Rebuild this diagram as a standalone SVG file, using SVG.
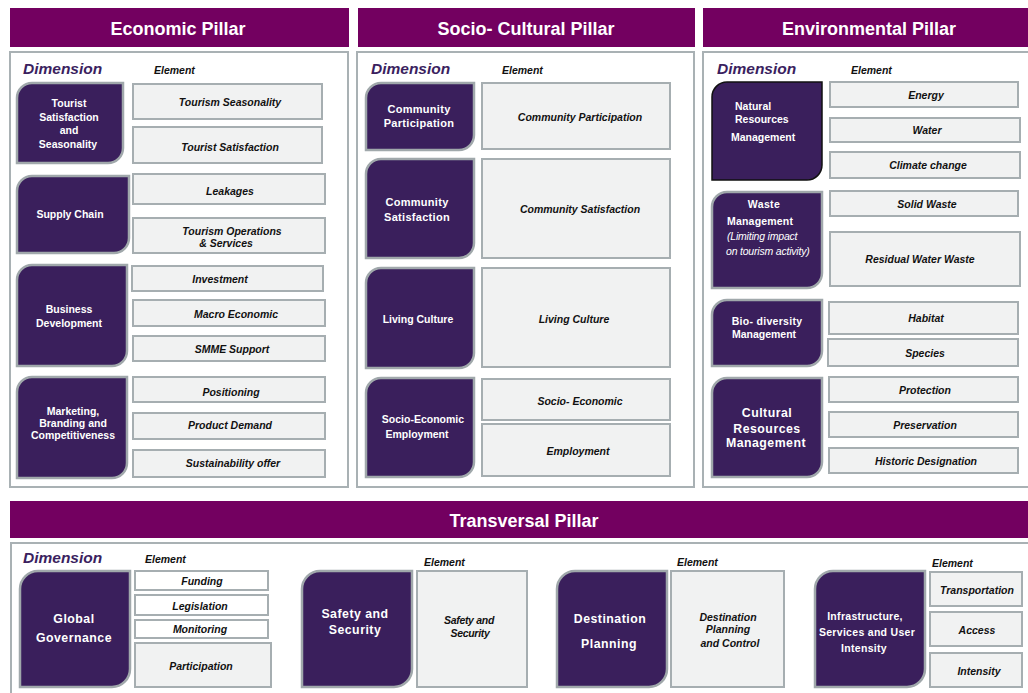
<svg xmlns="http://www.w3.org/2000/svg" width="1028" height="693" viewBox="0 0 1028 693">
<style>
.hdr{fill:#730060}
.hdrt{font-family:"Liberation Sans",Arial,sans-serif;font-weight:bold;font-size:18px;fill:#fff;text-anchor:middle}
.panel{fill:#fff;stroke:#a9b1b4;stroke-width:2}
.dim{fill:#3a1f5c;stroke:#a0a8ab;stroke-width:2.5}
.dimk{fill:#3a1f5c;stroke:#111;stroke-width:1.5}
.el{fill:#f1f2f2;stroke:#a6aeb1;stroke-width:2}
.elw{fill:#fff;stroke:#a6aeb1;stroke-width:2}
.dt{font-family:"Liberation Sans",Arial,sans-serif;font-weight:bold;font-size:10.5px;fill:#fff;text-anchor:middle}
.dtl{font-family:"Liberation Sans",Arial,sans-serif;font-weight:bold;font-size:12.3px;letter-spacing:0.5px;fill:#fff;text-anchor:middle}
.dti{font-family:"Liberation Sans",Arial,sans-serif;font-style:italic;font-size:10.5px;fill:#fff}
.et{font-family:"Liberation Sans",Arial,sans-serif;font-weight:bold;font-style:italic;font-size:10.5px;fill:#111;text-anchor:middle}
.dl{font-family:"Liberation Sans",Arial,sans-serif;font-weight:bold;font-style:italic;font-size:15.5px;fill:#3b1f5f}
.ell{font-family:"Liberation Sans",Arial,sans-serif;font-weight:bold;font-style:italic;font-size:10.5px;fill:#111}
</style>
<rect width="1028" height="693" fill="#fff"/>

<!-- Headers -->
<g id="header-economic"><rect class="hdr" x="10" y="8" width="339" height="39"/><text class="hdrt" x="178" y="35">Economic Pillar</text></g>
<g id="header-socio"><rect class="hdr" x="358" y="8" width="337" height="39"/><text class="hdrt" x="526" y="35">Socio- Cultural Pillar</text></g>
<g id="header-environmental"><rect class="hdr" x="703" y="8" width="325" height="39"/><text class="hdrt" x="869" y="35">Environmental Pillar</text></g>
<g id="header-transversal"><rect class="hdr" x="10" y="501" width="1018" height="37"/><text class="hdrt" x="524" y="527">Transversal Pillar</text></g>

<!-- Panels -->
<g id="panel-economic"><rect class="panel" x="10" y="52" width="338" height="435"/>
<text class="dl" x="23" y="74">Dimension</text><text class="ell" x="154" y="74">Element</text></g>
<g id="panel-socio"><rect class="panel" x="357" y="52" width="337" height="435"/>
<text class="dl" x="371" y="74">Dimension</text><text class="ell" x="502" y="74">Element</text></g>
<g id="panel-environmental"><rect class="panel" x="703" y="52" width="340" height="435"/>
<text class="dl" x="717" y="74">Dimension</text><text class="ell" x="851" y="74">Element</text></g>
<g id="panel-transversal"><rect class="panel" x="11" y="543" width="1030" height="200"/>
<text class="dl" x="23" y="563">Dimension</text><text class="ell" x="145" y="563">Element</text>
<text class="ell" x="424" y="566">Element</text><text class="ell" x="677" y="566">Element</text><text class="ell" x="932" y="567">Element</text></g>

<g id="connectors"/>

<!-- Economic dimensions -->
<g id="dim-tourist-satisfaction"><path class="dim" d="M17,98 A15,15 0 0 1 32,83 H123 V148 A15,15 0 0 1 108,163 H17 Z"/>
<text class="dt" x="69" y="107">Tourist</text><text class="dt" x="69" y="121">Satisfaction</text><text class="dt" x="69" y="134">and</text><text class="dt" x="68" y="148">Seasonality</text></g>
<g id="dim-supply-chain"><path class="dim" d="M17,191 A15,15 0 0 1 32,176 H129 V238 A15,15 0 0 1 114,253 H17 Z"/>
<text class="dt" x="70" y="218">Supply Chain</text></g>
<g id="dim-business-development"><path class="dim" d="M17,280 A15,15 0 0 1 32,265 H127 V351 A15,15 0 0 1 112,366 H17 Z"/>
<text class="dt" x="69" y="313">Business</text><text class="dt" x="69" y="327">Development</text></g>
<g id="dim-marketing"><path class="dim" d="M17,392 A15,15 0 0 1 32,377 H127 V463 A15,15 0 0 1 112,478 H17 Z"/>
<text class="dt" x="73" y="415">Marketing,</text><text class="dt" x="73" y="427">Branding and</text><text class="dt" x="73" y="439">Competitiveness</text></g>

<!-- Economic elements -->
<g id="el-tourism-seasonality"><rect class="el" x="133" y="84" width="189" height="35"/><text class="et" x="230" y="106">Tourism Seasonality</text></g>
<g id="el-tourist-satisfaction"><rect class="el" x="133" y="127" width="189" height="36"/><text class="et" x="230" y="151">Tourist Satisfaction</text></g>
<g id="el-leakages"><rect class="el" x="133" y="174" width="192" height="30"/><text class="et" x="230" y="195">Leakages</text></g>
<g id="el-tourism-operations"><rect class="el" x="133" y="218" width="192" height="35"/><text class="et" x="232" y="235">Tourism Operations</text><text class="et" x="226" y="247">&amp; Services</text></g>
<g id="el-investment"><rect class="el" x="132" y="266" width="191" height="25"/><text class="et" x="220" y="283">Investment</text></g>
<g id="el-macro-economic"><rect class="el" x="133" y="300" width="192" height="26"/><text class="et" x="236" y="318">Macro Economic</text></g>
<g id="el-smme-support"><rect class="el" x="133" y="336" width="192" height="25"/><text class="et" x="232" y="353">SMME Support</text></g>
<g id="el-positioning"><rect class="el" x="133" y="377" width="192" height="25"/><text class="et" x="231" y="396">Positioning</text></g>
<g id="el-product-demand"><rect class="el" x="133" y="413" width="192" height="26"/><text class="et" x="230" y="429">Product Demand</text></g>
<g id="el-sustainability-offer"><rect class="el" x="133" y="450" width="192" height="27"/><text class="et" x="233" y="467">Sustainability offer</text></g>

<!-- Socio dimensions -->
<g id="dim-community-participation"><path class="dim" d="M366,98 A15,15 0 0 1 381,83 H474 V135 A15,15 0 0 1 459,150 H366 Z"/>
<text class="dtl" x="419" y="113" style="font-size:11px;letter-spacing:0.3px">Community</text><text class="dtl" x="419" y="127" style="font-size:11px;letter-spacing:0.3px">Participation</text></g>
<g id="dim-community-satisfaction"><path class="dim" d="M366,174 A15,15 0 0 1 381,159 H474 V243 A15,15 0 0 1 459,258 H366 Z"/>
<text class="dtl" x="417" y="206" style="font-size:11px;letter-spacing:0.3px">Community</text><text class="dtl" x="417" y="221" style="font-size:11px;letter-spacing:0.3px">Satisfaction</text></g>
<g id="dim-living-culture"><path class="dim" d="M366,283 A15,15 0 0 1 381,268 H474 V353 A15,15 0 0 1 459,368 H366 Z"/>
<text class="dt" x="418" y="323">Living Culture</text></g>
<g id="dim-socio-economic-employment"><path class="dim" d="M366,393 A15,15 0 0 1 381,378 H474 V462 A15,15 0 0 1 459,477 H366 Z"/>
<text class="dt" x="423" y="423">Socio-Economic</text><text class="dt" x="417" y="438">Employment</text></g>

<!-- Socio elements -->
<g id="el-community-participation"><rect class="el" x="482" y="83" width="188" height="66"/><text class="et" x="580" y="121">Community Participation</text></g>
<g id="el-community-satisfaction"><rect class="el" x="482" y="159" width="188" height="99"/><text class="et" x="580" y="213">Community Satisfaction</text></g>
<g id="el-living-culture"><rect class="el" x="482" y="268" width="188" height="99"/><text class="et" x="574" y="323">Living Culture</text></g>
<g id="el-socio-economic"><rect class="el" x="482" y="379" width="188" height="41"/><text class="et" x="580" y="405">Socio- Economic</text></g>
<g id="el-employment"><rect class="el" x="482" y="424" width="188" height="52"/><text class="et" x="578" y="455">Employment</text></g>

<!-- Environmental dimensions -->
<g id="dim-natural-resources"><path class="dimk" d="M712,97 A15,15 0 0 1 727,82 H822 V165 A15,15 0 0 1 807,180 H712 Z"/>
<text class="dt" x="735" y="110" style="text-anchor:start">Natural</text><text class="dt" x="735" y="123" style="text-anchor:start">Resources</text><text class="dt" x="731" y="141" style="text-anchor:start">Management</text></g>
<g id="dim-waste-management"><path class="dim" d="M712,207 A15,15 0 0 1 727,192 H822 V273 A15,15 0 0 1 807,288 H712 Z"/>
<text class="dt" x="764" y="208" style="letter-spacing:0.4px">Waste</text><text class="dt" x="727" y="225" style="text-anchor:start;letter-spacing:0.2px">Management</text>
<text class="dti" x="727" y="240" style="letter-spacing:-0.2px">(Limiting impact</text><text class="dti" x="726" y="255" style="letter-spacing:-0.2px">on tourism activity)</text></g>
<g id="dim-biodiversity"><path class="dim" d="M712,315 A15,15 0 0 1 727,300 H822 V351 A15,15 0 0 1 807,366 H712 Z"/>
<text class="dt" x="767" y="325" style="letter-spacing:0.3px">Bio- diversity</text><text class="dt" x="764" y="338">Management</text></g>
<g id="dim-cultural-resources"><path class="dim" d="M712,393 A15,15 0 0 1 727,378 H822 V462 A15,15 0 0 1 807,477 H712 Z"/>
<text class="dtl" x="767" y="417">Cultural</text><text class="dtl" x="767" y="433">Resources</text><text class="dtl" x="766" y="447">Management</text></g>

<!-- Environmental elements -->
<g id="el-energy"><rect class="el" x="830" y="82" width="188" height="25"/><text class="et" x="926" y="99">Energy</text></g>
<g id="el-water"><rect class="el" x="830" y="118" width="190" height="24"/><text class="et" x="927" y="134">Water</text></g>
<g id="el-climate-change"><rect class="el" x="830" y="152" width="190" height="26"/><text class="et" x="928" y="169">Climate change</text></g>
<g id="el-solid-waste"><rect class="el" x="830" y="191" width="188" height="25"/><text class="et" x="927" y="208">Solid Waste</text></g>
<g id="el-residual-water-waste"><rect class="el" x="830" y="232" width="190" height="54"/><text class="et" x="920" y="263">Residual Water  Waste</text></g>
<g id="el-habitat"><rect class="el" x="829" y="302" width="189" height="32"/><text class="et" x="926" y="322">Habitat</text></g>
<g id="el-species"><rect class="el" x="828" y="339" width="190" height="27"/><text class="et" x="925" y="357">Species</text></g>
<g id="el-protection"><rect class="el" x="829" y="377" width="189" height="25"/><text class="et" x="925" y="394">Protection</text></g>
<g id="el-preservation"><rect class="el" x="829" y="412" width="189" height="25"/><text class="et" x="925" y="429">Preservation</text></g>
<g id="el-historic-designation"><rect class="el" x="829" y="448" width="189" height="25"/><text class="et" x="926" y="465">Historic Designation</text></g>

<!-- Transversal dimensions -->
<g id="dim-global-governance"><path class="dim" d="M20,589 A18,18 0 0 1 38,571 H130 V669 A18,18 0 0 1 112,687 H20 Z"/>
<text class="dtl" x="74" y="623">Global</text><text class="dtl" x="74" y="642">Governance</text></g>
<g id="dim-safety-security"><path class="dim" d="M302,589 A18,18 0 0 1 320,571 H412 V669 A18,18 0 0 1 394,687 H302 Z"/>
<text class="dtl" x="355" y="618">Safety and</text><text class="dtl" x="355" y="634">Security</text></g>
<g id="dim-destination-planning"><path class="dim" d="M557,589 A18,18 0 0 1 575,571 H667 V669 A18,18 0 0 1 649,687 H557 Z"/>
<text class="dtl" x="610" y="623">Destination</text><text class="dtl" x="609" y="648">Planning</text></g>
<g id="dim-infrastructure"><path class="dim" d="M815,589 A18,18 0 0 1 833,571 H925 V669 A18,18 0 0 1 907,687 H815 Z"/>
<text class="dt" x="865" y="620" style="letter-spacing:0.3px">Infrastructure,</text><text class="dt" x="867" y="636" style="letter-spacing:0.3px">Services and User</text><text class="dt" x="864" y="652" style="letter-spacing:0.3px">Intensity</text></g>

<!-- Transversal elements -->
<g id="el-funding"><rect class="elw" x="135" y="571" width="133" height="19"/><text class="et" x="202" y="585">Funding</text></g>
<g id="el-legislation"><rect class="elw" x="135" y="595" width="133" height="20"/><text class="et" x="200" y="610">Legislation</text></g>
<g id="el-monitoring"><rect class="elw" x="135" y="620" width="133" height="18"/><text class="et" x="200" y="633">Monitoring</text></g>
<g id="el-participation"><rect class="el" x="135" y="643" width="136" height="44"/><text class="et" x="201" y="670">Participation</text></g>
<g id="el-safety-security"><rect class="el" x="417" y="571" width="110" height="116"/><text class="et" x="469" y="624" style="letter-spacing:-0.3px">Safety and</text><text class="et" x="470" y="637" style="letter-spacing:-0.3px">Security</text></g>
<g id="el-destination-planning-control"><rect class="el" x="671" y="571" width="113" height="116"/><text class="et" x="728" y="621">Destination</text><text class="et" x="728" y="633">Planning</text><text class="et" x="730" y="647">and Control</text></g>
<g id="el-transportation"><rect class="el" x="930" y="572" width="92" height="34"/><text class="et" x="977" y="594">Transportation</text></g>
<g id="el-access"><rect class="el" x="930" y="612" width="92" height="34"/><text class="et" x="977" y="634">Access</text></g>
<g id="el-intensity"><rect class="el" x="930" y="653" width="92" height="34"/><text class="et" x="979" y="675">Intensity</text></g>
</svg>
